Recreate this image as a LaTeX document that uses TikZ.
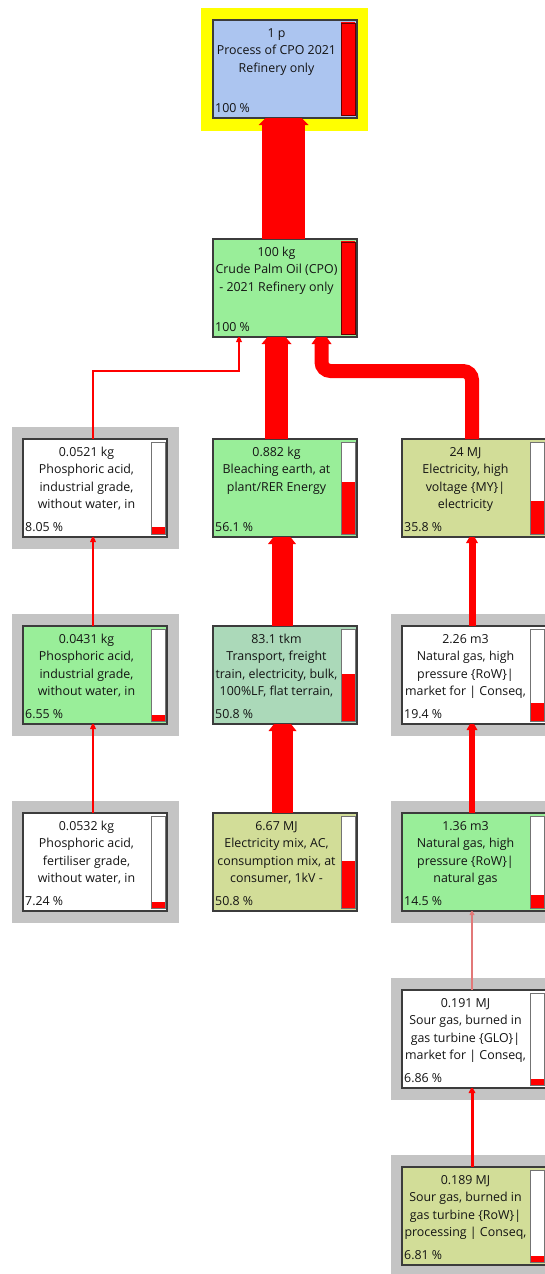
\documentclass[tikz,border=0pt]{standalone}
\usepackage{fontspec}
\setmainfont{Open Sans}
\usetikzlibrary{calc}
\definecolor{flowred}{RGB}{255,0,0}
\definecolor{paleflow}{RGB}{226,120,120}
\definecolor{boxline}{RGB}{60,60,60}
\definecolor{textc}{RGB}{20,20,20}
\definecolor{bluebox}{RGB}{172,197,240}
\definecolor{greenbox}{RGB}{153,238,153}
\definecolor{teabox}{RGB}{171,217,185}
\definecolor{olivebox}{RGB}{210,221,152}
\definecolor{graybg}{RGB}{196,196,196}
\definecolor{yellowbg}{RGB}{255,255,0}
\pgfdeclarelayer{canvas}
\pgfdeclarelayer{bg}
\pgfsetlayers{canvas,bg,main}
\tikzset{
  pbx/.style={draw=boxline, line width=1.2pt, minimum width=144pt, minimum height=98pt,
    anchor=north west, inner sep=0pt, outer sep=0pt},
  txt/.style={font=\fontsize{12.4}{14}\selectfont, text=textc, anchor=base, inner sep=0pt},
  barline/.style={draw=black!55, line width=0.6pt},
  fullbar/.style={fill=flowred, draw=black!60!red, line width=0.8pt},
}
% name, x, y, fill, pct, lines, pct text
\newcommand\pbox[7]{%
  \node[pbx, fill=#4] (#1) at (#2,#3) {};
  \pgfmathsetmacro\barh{93.5*#5/100}
  \fill[white] ($(#1.north east)+(-16,3)$) rectangle ($(#1.south east)+(-2,-2.5)$);
  \fill[flowred] ($(#1.south east)+(-16,-2.5-\barh)$) rectangle ($(#1.south east)+(-2,-2.5)$);
  \draw[barline] ($(#1.north east)+(-16,3)$) rectangle ($(#1.south east)+(-2,-2.5)$);
  \foreach \myline [count=\i] in {#6} {\node[txt] at ($(#1.north west)+(63.5,17+17.5*\i-17.5)$) {\myline};}
  \node[txt, anchor=base west] at ($(#1.south west)+(2,-6)$) {#7};
}
% arrow head: anchor, dx, half base, half tip, height, colour
\newcommand\fhead[6]{%
  \fill[#6] ($(#1)+(#2-#3,#5)$) -- ($(#1)+(#2-#4,0)$) -- ($(#1)+(#2+#4,0)$) -- ($(#1)+(#2+#3,#5)$) -- cycle;}
% straight vertical flow: from, to, dx, width, halfbase, halftip, height, colour
\newcommand\vflow[8]{%
  \draw[line width=#4pt, #8] ($(#1.north)+(#3,0)$) -- ($(#2.south)+(#3,#7)$);
  \fhead{#2.south}{#3}{#5}{#6}{#7}{#8}}
\begin{document}
\begin{tikzpicture}[x=1pt,y=-1pt]
\useasboundingbox (0,0) rectangle (545,1274);
\clip (0,0) rectangle (545,1274);
\begin{pgfonlayer}{canvas}
  \fill[white] (0,0) rectangle (545,1274);
\end{pgfonlayer}

\pbox{top}{213}{20}{bluebox}{100}{{1 p},{Process of CPO 2021},{Refinery only}}{100 \%}
\pbox{cpo}{213}{239}{greenbox}{100}{{100 kg},{Crude Palm Oil (CPO)},{- 2021 Refinery only}}{100 \%}
\draw[fullbar] ($(top.north east)+(-16,3)$) rectangle ($(top.south east)+(-2,-2.5)$);
\draw[fullbar] ($(cpo.north east)+(-16,3)$) rectangle ($(cpo.south east)+(-2,-2.5)$);

\pbox{pa1}{23}{439}{white}{8.05}{{0.0521 kg},{Phosphoric acid,},{industrial grade,},{without water, in}}{8.05 \%}
\pbox{be}{213}{439}{greenbox}{56.1}{{0.882 kg},{Bleaching earth, at},{plant/RER Energy}}{56.1 \%}
\pbox{el}{402}{439}{olivebox}{35.8}{{24 MJ},{Electricity, high},{voltage \{MY\}|},{electricity}}{35.8 \%}

\pbox{pa2}{23}{626}{greenbox}{6.55}{{0.0431 kg},{Phosphoric acid,},{industrial grade,},{without water, in}}{6.55 \%}
\pbox{tr}{213}{626}{teabox}{50.8}{{83.1 tkm},{Transport, freight},{train, electricity, bulk,},{100\%LF, flat terrain,}}{50.8 \%}
\pbox{ngm}{402}{626}{white}{19.4}{{2.26 m3},{Natural gas, high},{pressure \{RoW\}|},{market for | Conseq,}}{19.4 \%}

\pbox{pa3}{23}{813}{white}{7.24}{{0.0532 kg},{Phosphoric acid,},{fertiliser grade,},{without water, in}}{7.24 \%}
\pbox{em}{213}{813}{olivebox}{50.8}{{6.67 MJ},{Electricity mix, AC,},{consumption mix, at},{consumer, 1kV -}}{50.8 \%}
\pbox{ngn}{402}{813}{greenbox}{14.5}{{1.36 m3},{Natural gas, high},{pressure \{RoW\}|},{natural gas}}{14.5 \%}

\pbox{sgm}{402}{990}{white}{6.86}{{0.191 MJ},{Sour gas, burned in},{gas turbine \{GLO\}|},{market for | Conseq,}}{6.86 \%}
\pbox{sgp}{402}{1167}{olivebox}{6.81}{{0.189 MJ},{Sour gas, burned in},{gas turbine \{RoW\}|},{processing | Conseq,}}{6.81 \%}

\begin{pgfonlayer}{bg}
  \fill[yellowbg] ($(top.north west)+(-12,-12)$) rectangle ($(top.south east)+(11,13)$);
  \foreach \n in {pa1,pa2,pa3,ngm,ngn,sgm,sgp}
    \fill[graybg] ($(\n.north west)+(-11,-12)$) rectangle ($(\n.south east)+(12,12)$);
\end{pgfonlayer}

% flows
\vflow{cpo}{top}{-1.5}{43}{25}{18}{7}{flowred}
\vflow{be}{cpo}{-8.5}{23}{15}{9}{7}{flowred}
\draw[line width=2.6pt, flowred] ($(pa1.north)+(-2,0)$) |- ($(cpo.south)+(-46,34)$) -- ($(cpo.south)+(-46,5)$);
\fhead{cpo.south}{-46}{3}{0.8}{5}{flowred}
\draw[line width=14pt, flowred, rounded corners=9pt] ($(el.north)+(-2,0)$) |- ($(cpo.south)+(36.5,34)$) -- ($(cpo.south)+(36.5,7)$);
\fhead{cpo.south}{36.5}{10}{5}{7}{flowred}

\vflow{pa2}{pa1}{-2}{2.6}{3}{0.8}{5}{flowred}
\vflow{tr}{be}{-3}{21}{14}{8.5}{7}{flowred}
\vflow{ngm}{el}{-2}{7}{6}{2.5}{6}{flowred}

\vflow{pa3}{pa2}{-2}{2.2}{3}{0.8}{5}{flowred}
\vflow{em}{tr}{-2.5}{21}{14}{8.5}{7}{flowred}
\vflow{ngn}{ngm}{-2}{6}{5.5}{2}{6}{flowred}

\vflow{sgm}{ngn}{-2}{1.4}{2.5}{0.6}{4}{paleflow}
\vflow{sgp}{sgm}{-2}{3}{3.5}{0.8}{5}{flowred}
\end{tikzpicture}
\end{document}
